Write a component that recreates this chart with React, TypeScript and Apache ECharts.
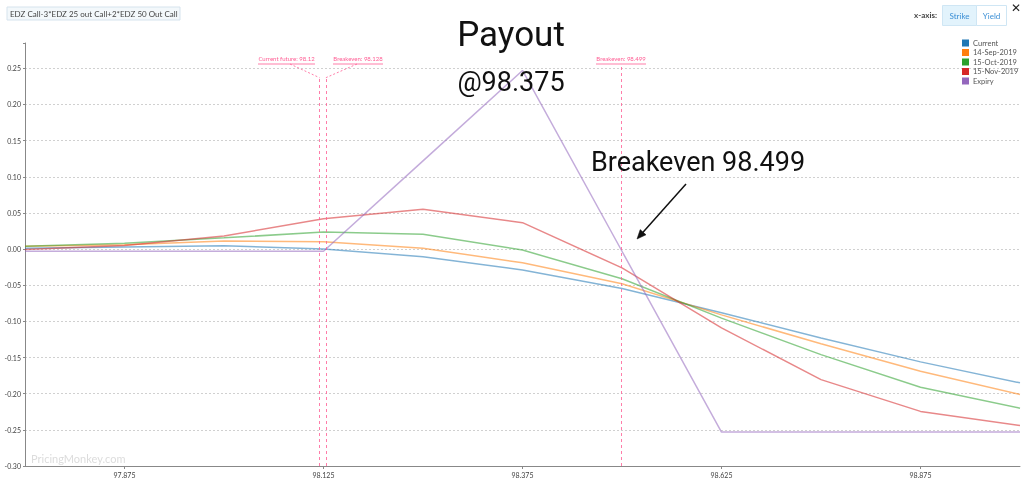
import React, { useEffect, useRef } from "react";
import * as echarts from "echarts";

const strikes = [97.75, 97.875, 98.0, 98.125, 98.25, 98.375, 98.5, 98.625, 98.75, 98.875, 99.0];
const current = [0.001, 0.003, 0.0045, 0.0, -0.0105, -0.029, -0.0545, -0.088, -0.123, -0.156, -0.185];
const sep14 = [0.004, 0.006, 0.011, 0.01, 0.0013, -0.019, -0.048, -0.091, -0.131, -0.169, -0.201];
const oct15 = [0.004, 0.008, 0.0155, 0.0235, 0.0205, -0.0014, -0.041, -0.0955, -0.146, -0.191, -0.22];
const nov15 = [-0.0005, 0.005, 0.018, 0.042, 0.055, 0.0365, -0.026, -0.109, -0.1805, -0.2245, -0.244];
const expiry = [-0.003, -0.003, -0.003, -0.003, 0.122, 0.247, -0.003, -0.253, -0.253, -0.253, -0.253];

const seriesNames = ["Current", "14-Sep-2019", "15-Oct-2019", "15-Nov-2019", "Expiry"];
const seriesColors = ["#1f77b4", "#ff7f0e", "#2ca02c", "#d62728", "#9467bd"];
const xTickValues = [97.875, 98.125, 98.375, 98.625, 98.875];

const markerValues = [98.12, 98.128, 98.499];
const markerLabels = ["Current future: 98.12", "Breakeven: 98.128", "Breakeven: 98.499"];
const markerTops = [0.237, 0.237, 0.256];

const titleText = "EDZ Call-3*EDZ 25 out Call+2*EDZ 50 Out Call";
const annotationPayout = "Payout";
const annotationPeak = "@98.375";
const annotationBreakeven = "Breakeven 98.499";

const PINK = "#ff5c93";
const FONT = "Lato, 'Open Sans', sans-serif";

export default function App() {
  const ref = useRef<HTMLDivElement>(null);
  useEffect(() => {
    const chart = echarts.init(ref.current!, null, { renderer: "svg" });
    const values = [current, sep14, oct15, nov15, expiry];
    const series: any[] = values.map((v, i) => ({
      name: seriesNames[i],
      type: "line",
      data: strikes.map((s, j) => [s, v[j]]),
      symbol: "none",
      showSymbol: false,
      color: seriesColors[i],
      lineStyle: { width: 1.5, color: seriesColors[i], opacity: 0.55 },
      z: 3,
    }));
    series.push({
      name: "markers",
      type: "line",
      data: [],
      z: 2,
      markLine: {
        silent: true,
        symbol: "none",
        animation: false,
        label: { show: false },
        lineStyle: { type: [3, 3], color: PINK, width: 1, opacity: 0.8 },
        data: markerValues.map((v, i) => [
          { coord: [v, -0.3] },
          { coord: [v, markerTops[i]] },
        ]),
      },
    });

    chart.setOption({
      animation: false,
      textStyle: { fontFamily: FONT },
      grid: { left: 25, right: 4, top: 43, bottom: 20, containLabel: false },
      legend: {
        orient: "vertical",
        left: 962,
        top: 39,
        padding: 0,
        itemWidth: 7,
        itemHeight: 7,
        itemGap: 1.5,
        icon: "rect",
        textStyle: { fontSize: 7.5, color: "#555", fontFamily: FONT, padding: [0, 0, 0, -1] },
        data: seriesNames.map((n, i) => ({
          name: n,
          icon: "rect",
          itemStyle: { color: seriesColors[i], opacity: 1 },
        })),
      },
      xAxis: {
        type: "value",
        min: 97.75,
        max: 99.0,
        axisLine: { show: true, onZero: false, lineStyle: { color: "#888", width: 1 } },
        axisTick: { show: true, length: 3, customValues: xTickValues, lineStyle: { color: "#888" } },
        axisLabel: {
          customValues: xTickValues,
          fontSize: 7,
          color: "#444",
          margin: 5,
          formatter: (v: number) => v.toFixed(3),
        },
        splitLine: { show: false },
      },
      yAxis: {
        type: "value",
        min: -0.3,
        max: 0.285,
        interval: 0.05,
        axisLine: { show: true, onZero: false, lineStyle: { color: "#888", width: 1 } },
        axisTick: { show: true, length: 2, lineStyle: { color: "#888" } },
        axisLabel: {
          fontSize: 7,
          color: "#444",
          margin: 4,
          formatter: (v: number) => {
            const r = Math.round(v / 0.05);
            if (Math.abs(v - r * 0.05) > 1e-6) return "";
            return (r * 0.05).toFixed(2);
          },
        },
        splitLine: {
          show: true,
          showMaxLine: false,
          lineStyle: { type: [2, 2], color: "#d0d0d0", width: 1 },
        },
      },
      series,
    });

    const px = (x: number, y: number) => chart.convertToPixel({ gridIndex: 0 }, [x, y]) as number[];
    const tops = markerValues.map((v, i) => px(v, markerTops[i]));

    const labelBoxes = [
      { x0: 258, x1: 315, from: [290, 64] },
      { x0: 333, x1: 383, from: [357, 64] },
      { x0: 596, x1: 646, from: null as any },
    ];

    const graphic: any[] = [
      {
        type: "rect",
        shape: { x: 7, y: 7, width: 173, height: 13 },
        style: { fill: "#f3f8fb", stroke: "#d6e3ed", lineWidth: 1 },
      },
      {
        type: "text",
        x: 10,
        y: 13.5,
        style: { text: titleText, fontSize: 8, fill: "#444", fontFamily: FONT, verticalAlign: "middle" },
      },
      {
        type: "text",
        x: 937,
        y: 15,
        style: { text: "x-axis:", fontSize: 8, fontWeight: "bold", fill: "#444", fontFamily: FONT, align: "right", verticalAlign: "middle" },
      },
      {
        type: "rect",
        shape: { x: 942.5, y: 5.5, width: 34, height: 20 },
        style: { fill: "#e2f3fc", stroke: "#cfe6f4", lineWidth: 1 },
      },
      {
        type: "text",
        x: 959.5,
        y: 15.5,
        style: { text: "Strike", fontSize: 8, fill: "#3b8fd5", fontFamily: FONT, align: "center", verticalAlign: "middle" },
      },
      {
        type: "rect",
        shape: { x: 976.5, y: 5.5, width: 30, height: 20 },
        style: { fill: "#ffffff", stroke: "#cfe6f4", lineWidth: 1 },
      },
      {
        type: "text",
        x: 991.5,
        y: 15.5,
        style: { text: "Yield", fontSize: 8, fill: "#3b8fd5", fontFamily: FONT, align: "center", verticalAlign: "middle" },
      },
      {
        type: "text",
        x: 1016,
        y: 8,
        style: { text: "✕", fontSize: 12, fill: "#222", fontFamily: "DejaVu Sans", align: "center", verticalAlign: "middle" },
      },
      {
        type: "text",
        x: 31,
        y: 458,
        z: 1,
        style: { text: "PricingMonkey.com", fontSize: 11, fill: "#dcdcdc", fontFamily: FONT, verticalAlign: "middle" },
      },
      {
        type: "text",
        x: 511,
        y: 34,
        z: 10,
        style: { text: annotationPayout, fontSize: 35, fill: "#111", fontFamily: "Roboto, sans-serif", align: "center", verticalAlign: "middle" },
      },
      {
        type: "text",
        x: 511,
        y: 82,
        z: 10,
        style: { text: annotationPeak, fontSize: 27, fill: "#111", fontFamily: "Roboto, sans-serif", align: "center", verticalAlign: "middle" },
      },
      {
        type: "text",
        x: 698,
        y: 162,
        z: 10,
        style: { text: annotationBreakeven, fontSize: 27, fill: "#111", fontFamily: "Roboto, sans-serif", align: "center", verticalAlign: "middle" },
      },
      {
        type: "line",
        z: 10,
        shape: { x1: 686, y1: 184, x2: 641, y2: 234.5 },
        style: { stroke: "#111", lineWidth: 1.5 },
      },
      {
        type: "polygon",
        z: 10,
        shape: { points: [[637, 239], [646, 234.8], [640.2, 229.6]] },
        style: { fill: "#111", stroke: "#111", lineWidth: 0.5 },
      },
    ];

    labelBoxes.forEach((b, i) => {
      graphic.push({
        type: "text",
        x: (b.x0 + b.x1) / 2,
        y: 58.5,
        z: 10,
        style: { text: markerLabels[i], fontSize: 6, fill: PINK, fontFamily: FONT, align: "center", verticalAlign: "middle" },
      });
      graphic.push({
        type: "line",
        z: 10,
        shape: { x1: b.x0, y1: 64, x2: b.x1, y2: 64 },
        style: { stroke: PINK, lineWidth: 1, opacity: 0.8 },
      });
      if (b.from) {
        graphic.push({
          type: "line",
          z: 10,
          shape: { x1: b.from[0], y1: b.from[1], x2: tops[i][0], y2: tops[i][1] },
          style: { stroke: PINK, lineWidth: 1, lineDash: [2, 2], opacity: 0.8 },
        });
      } else {
        graphic.push({
          type: "line",
          z: 10,
          shape: { x1: tops[i][0], y1: 64, x2: tops[i][0], y2: tops[i][1] },
          style: { stroke: PINK, lineWidth: 1, lineDash: [3, 3], opacity: 0.8 },
        });
      }
    });

    chart.setOption({ graphic });

    return () => chart.dispose();
  }, []);
  return <div ref={ref} style={{ position: "fixed", left: 0, top: 0, width: 1024, height: 486 }} />;
}
